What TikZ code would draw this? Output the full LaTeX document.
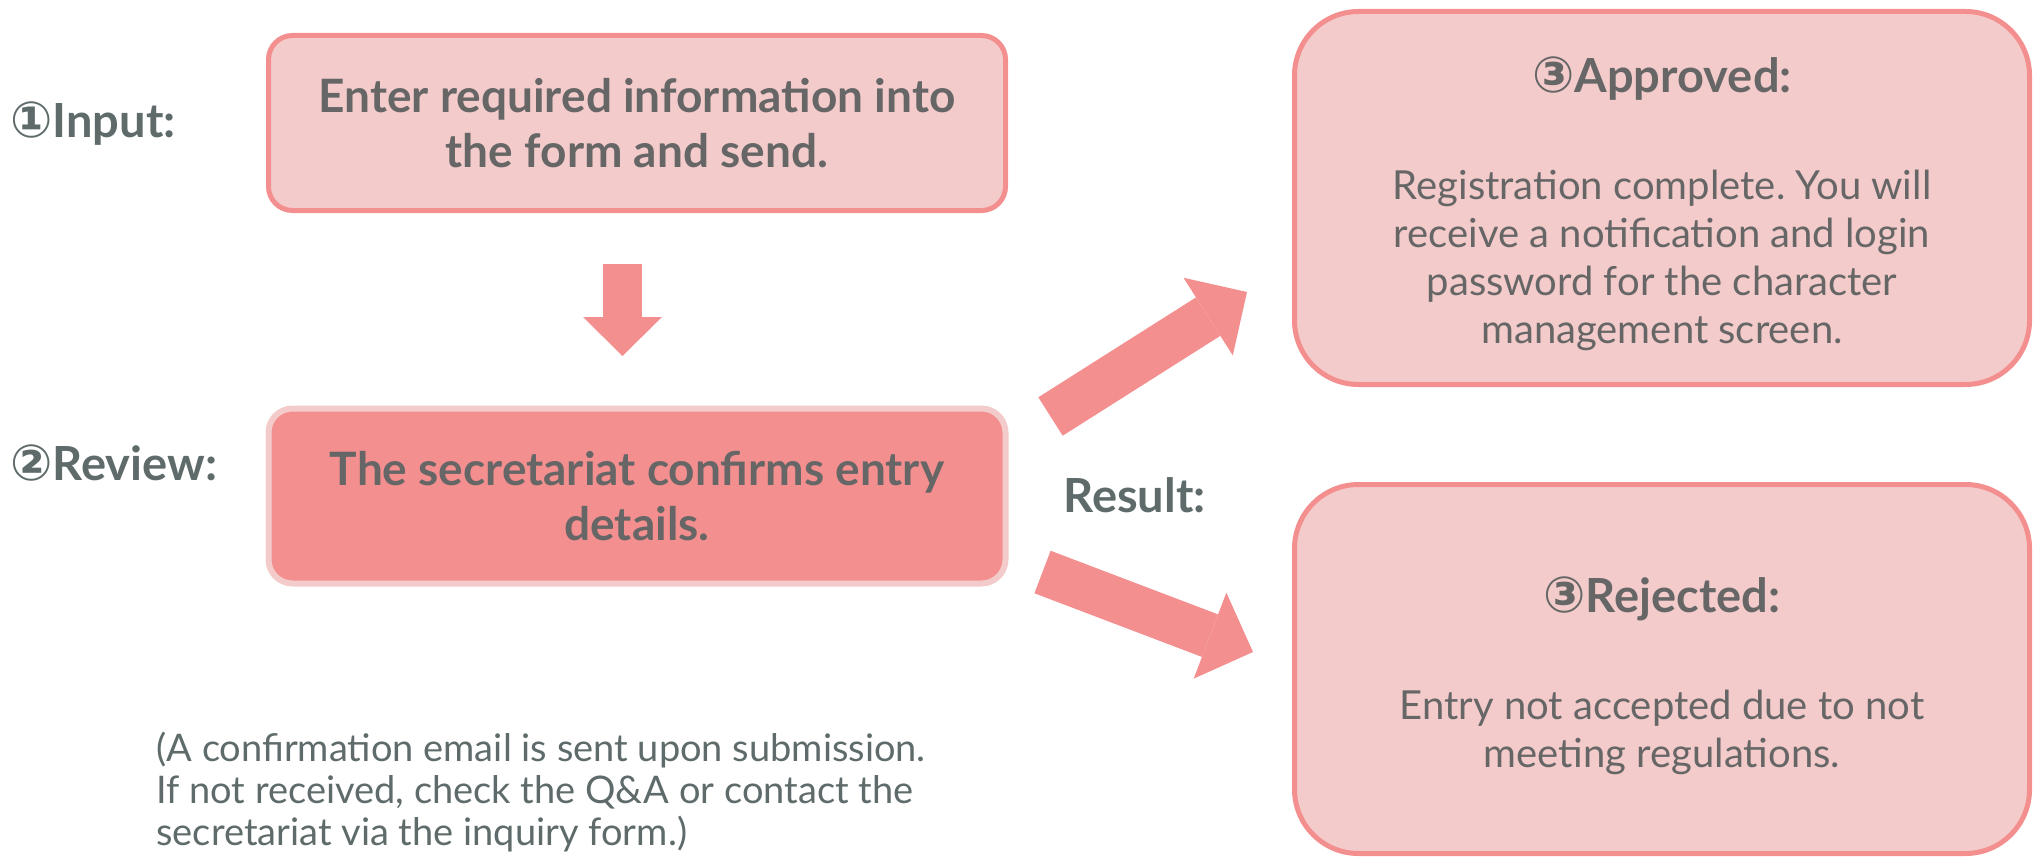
\documentclass[tikz,border=0pt]{standalone}
\usepackage{fontspec}
\setmainfont{Lato}
\newfontfamily\circfont{DejaVu Sans}
\usepackage{xcolor}
\usepackage{tikz}
\usetikzlibrary{arrows.meta}
\definecolor{boxpink}{HTML}{F4CBCB}
\definecolor{linepink}{HTML}{F48F8F}
\definecolor{labelgray}{HTML}{5F6B6B}
\definecolor{textgray}{HTML}{666666}
\newcommand{\circnum}[1]{{\circfont\fontsize{25}{25}\selectfont #1}}
\frenchspacing

\begin{document}
\begin{tikzpicture}[x=0.5pt,y=-0.5pt,
  steplabel/.style={anchor=base west,inner sep=0pt,text=labelgray,font=\bfseries\fontsize{23.5}{26}\selectfont},
  stepbox/.style={draw=linepink,fill=boxpink,line width=2.5pt,rounded corners=12pt,
    minimum width=368.5pt,minimum height=87.5pt,align=center,text=textgray,
    font=\bfseries\fontsize{23}{27.5}\selectfont},
  resultbox/.style={draw=linepink,fill=boxpink,line width=2.5pt,rounded corners=32pt,
    minimum width=367.5pt},
  resulttitle/.style={anchor=base,inner sep=0pt,text=textgray,font=\bfseries\fontsize{23.5}{26}\selectfont},
  resulttext/.style={inner sep=0pt,align=center,text=textgray,font=\fontsize{20}{24}\selectfont},
  downarrow/.style={draw=linepink,line width=19.5pt,-{Triangle[width=39.5pt,length=19.5pt,line width=0pt]}},
  sidearrow/.style={draw=linepink,line width=22.75pt,-{Triangle[width=46pt,length=23pt,line width=0pt]}}]
\useasboundingbox (0,0) rectangle (2037,856);

\node[steplabel] (input-label) at (10,137) {\circnum{①}Input:};
\node[steplabel] (review-label) at (10,480) {\circnum{②}Review:};
\node[steplabel] (result-label) at (1063,512) {Result:};

\node[stepbox] (input) at (637,123) {Enter required information into\\the form and send.};
\node[stepbox,fill=linepink,draw=boxpink,line width=3pt] (review) at (637,496) {The secretariat confirms entry\\details.};

\node[resultbox,minimum height=186.5pt] (approved) at (1662,198) {};
\node[resulttitle] (approved-title) at (1662,92) {\circnum{③}Approved:};
\node[resulttext] (approved-text) at (1662,260) {Registration complete. You will\\receive a notification and login\\password for the character\\management screen.};

\node[resultbox,minimum height=184.5pt] (rejected) at (1662,669) {};
\node[resulttitle] (rejected-title) at (1662,612) {\circnum{③}Rejected:};
\node[resulttext] (rejected-text) at (1662,732) {Entry not accepted due to not\\meeting regulations.};

\node[anchor=north west,inner sep=0pt,align=left,text=labelgray,font=\fontsize{19}{21}\selectfont] (note) at (156,732)
  {(A confirmation email is sent upon submission.\\If not received, check the Q\&A or contact the\\secretariat via the inquiry form.)};

\coordinate (down-tail) at (622.5,264);
\coordinate (down-tip) at (622.5,356);
\coordinate (up-tail) at (1050.5,416.5);
\coordinate (up-tip) at (1247,292);
\coordinate (low-tail) at (1042.5,572);
\coordinate (low-tip) at (1253,652);

\draw[downarrow] (down-tail) -- (down-tip);
\draw[sidearrow] (up-tail) -- (up-tip);
\draw[sidearrow] (low-tail) -- (low-tip);
\end{tikzpicture}
\end{document}
